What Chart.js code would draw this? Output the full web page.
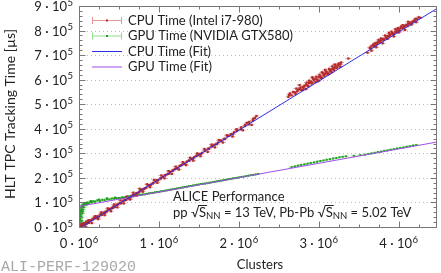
<!DOCTYPE html>
<html>
<head>
<meta charset="utf-8">
<script src="https://cdn.jsdelivr.net/npm/chart.js@4"></script>
<style>
  html, body { margin: 0; padding: 0; background: #fff; }
  #wrap { width: 441px; height: 273px; }
</style>
</head>
<body>
<div id="wrap"><canvas id="chart" width="441" height="273"></canvas></div>
<script>
// x in 10^6 clusters, y in 10^5 µs
const cpuX = [0.01,0.02,0.03,0.04,0.05,0.06,0.07,0.09,0.10,0.12,0.13,0.15,0.17,0.19,0.21,0.23,0.25,0.27,0.29,0.31,0.33,0.35,0.37,0.39,0.41,0.43,0.45,0.47,0.49,0.51,0.53,0.55,0.57,0.59,0.61,0.63,0.65,0.67,0.69,0.71,0.73,0.75,0.77,0.79,0.81,0.84,0.87,0.90,0.93,0.96,0.99,1.02,1.05,1.08,1.11,1.14,1.17,1.20,1.23,1.26,1.29,1.32,1.35,1.38,1.41,1.44,1.47,1.50,1.54,1.58,1.62,1.66,1.70,1.74,1.78,1.82,1.86,1.90,1.94,1.98,2.03,2.08,2.13,2.18,2.22,
  0.08,0.11,0.16,0.20,0.24,0.28,0.32,0.36,0.40,0.44,0.48,0.52,0.56,0.60,0.64,0.68,0.72,0.76,0.80,0.85,0.89,0.94,0.98,1.03,1.07,1.12,1.16,1.21,1.25,1.30,1.34,1.39,1.43,1.48,1.52,1.57,1.61,1.66,1.70,1.75,1.80,1.85,1.92,1.97,2.05,2.10,2.16,2.20,
  0.025,0.075,0.125,0.175,0.225,0.275,0.325,0.375,0.425,0.475,0.525,0.575,0.625,0.675,0.725,0.775,0.825,0.875,0.925,0.975,1.025,1.075,1.125,1.175,1.225,1.275,1.325,1.375,1.425,1.475,1.525,1.575,1.625,1.675,1.725,1.775,1.825,1.875,1.925,1.975,2.025,2.075,2.125,2.175,
  2.62,2.66,2.70,2.73,2.76,2.78,2.80,2.82,2.84,2.86,2.88,2.90,2.92,2.94,2.96,2.98,3.00,3.02,3.04,3.06,3.08,3.10,3.12,3.14,3.16,3.18,3.20,3.22,3.24,3.26,3.28,
  2.64,2.72,2.80,2.88,2.96,3.04,3.12,3.20,3.27,2.76,2.92,3.08,3.16,2.84,3.00,
  2.63,2.68,2.71,2.74,2.77,2.81,2.85,2.87,2.91,2.93,2.97,2.99,3.01,3.03,3.05,3.07,3.09,3.11,3.13,3.15,3.17,3.19,3.21,3.23,3.25,3.27,
  3.37,3.61,
  3.64,3.66,3.68,3.70,3.72,3.74,3.76,3.78,3.80,3.82,3.84,3.86,3.88,3.90,3.92,3.94,3.96,3.98,4.00,4.02,4.04,4.06,4.08,4.10,4.12,4.14,4.17,4.20,4.23,4.27,
  3.66,3.72,3.80,3.86,3.94,4.00,4.08,4.16,4.22,3.70,3.78,3.88,3.96,4.05,4.12,4.25,
  3.65,3.69,3.73,3.77,3.81,3.85,3.89,3.93,3.97,4.01,4.03,4.07,4.11,4.15,4.19,4.21,3.75,3.83,3.91,3.99];
const cpuY = [0.04,0.10,0.03,0.12,0.07,0.16,0.10,0.20,0.14,0.22,0.28,0.26,0.32,0.38,0.36,0.44,0.42,0.52,0.50,0.58,0.62,0.64,0.72,0.74,0.76,0.84,0.82,0.90,0.92,0.98,0.97,1.06,1.08,1.10,1.18,1.16,1.24,1.26,1.30,1.36,1.38,1.42,1.46,1.52,1.54,1.60,1.68,1.72,1.80,1.86,1.90,1.98,2.04,2.10,2.16,2.24,2.28,2.36,2.40,2.48,2.54,2.58,2.66,2.70,2.78,2.84,2.90,2.96,3.02,3.12,3.20,3.28,3.36,3.44,3.52,3.60,3.70,3.78,3.86,3.96,4.06,4.16,4.28,4.40,4.52,
  0.02,0.26,0.16,0.44,0.32,0.60,0.48,0.76,0.64,0.92,0.80,1.08,0.96,1.24,1.12,1.40,1.28,1.56,1.44,1.74,1.62,1.92,1.80,2.10,1.98,2.28,2.16,2.46,2.34,2.64,2.52,2.82,2.70,3.00,2.88,3.18,3.06,3.36,3.24,3.54,3.44,3.74,3.68,3.98,3.94,4.24,4.16,4.44,
  0.05,0.12,0.17,0.31,0.38,0.51,0.57,0.71,0.78,0.91,0.97,1.11,1.18,1.31,1.37,1.51,1.58,1.71,1.77,1.91,1.98,2.11,2.17,2.31,2.38,2.51,2.57,2.71,2.78,2.91,2.97,3.11,3.18,3.31,3.37,3.51,3.58,3.71,3.77,3.91,3.98,4.11,4.18,4.33,
  5.30,5.36,5.48,5.52,5.62,5.58,5.70,5.74,5.80,5.76,5.86,5.92,5.88,5.98,6.04,6.00,6.10,6.14,6.08,6.20,6.24,6.30,6.26,6.36,6.42,6.46,6.50,6.48,6.58,6.64,6.70,
  5.44,5.64,5.58,5.96,5.90,6.30,6.22,6.62,6.52,5.78,6.10,6.40,6.30,5.62,5.96,
  5.38,5.50,5.42,5.58,5.68,5.66,5.88,5.72,5.84,6.04,6.12,5.94,6.20,6.06,6.28,6.16,6.34,6.22,6.44,6.34,6.54,6.40,6.58,6.50,6.66,6.62,
  6.86,7.10,
  7.30,7.36,7.42,7.40,7.48,7.54,7.52,7.60,7.66,7.64,7.72,7.78,7.76,7.84,7.90,7.88,7.96,8.00,8.02,8.08,8.12,8.10,8.20,8.24,8.26,8.32,8.36,8.42,8.46,8.52,
  7.18,7.32,7.48,7.66,7.76,7.92,8.02,8.24,8.34,7.48,7.68,7.90,8.06,8.22,8.36,8.54,
  7.26,7.36,7.46,7.56,7.62,7.70,7.82,7.84,7.94,7.98,8.16,8.16,8.18,8.28,8.38,8.48,7.62,7.80,7.96,8.10];

const gpuX = [0.010,0.012,0.014,0.016,0.018,0.020,0.022,0.025,0.028,0.032,0.036,0.040,0.010,0.015,0.020,0.045,0.050,0.060,0.070,0.080,0.090,0.10,0.12,0.14,0.16,0.18,0.20,0.23,0.26,0.29,0.32,0.35,0.38,0.41,0.44,0.47,0.50,0.54,0.58,0.62,0.66,0.70,0.75,0.80,0.85,0.90,0.95,1.00,1.05,1.10,1.15,1.20,1.25,1.30,1.35,1.40,1.45,1.50,1.55,1.60,1.65,1.70,1.75,1.80,1.85,1.90,1.95,2.00,2.06,2.12,2.18,2.24,
  0.030,0.040,0.050,0.060,0.035,0.045,0.070,0.10,0.15,0.25,0.35,0.45,
  0.52,0.56,0.60,0.64,0.68,0.725,0.775,0.825,0.875,0.925,0.975,1.025,1.075,1.125,1.175,1.225,1.275,1.325,1.375,1.425,1.475,1.525,1.575,1.625,1.675,1.725,1.775,1.825,1.875,1.925,1.975,2.03,2.09,2.15,2.21,
  2.66,2.70,2.74,2.78,2.82,2.86,2.90,2.94,2.98,3.02,3.06,3.10,3.14,3.18,3.22,3.26,3.30,3.34,
  3.44,3.52,3.58,3.62,3.66,3.70,3.74,3.78,3.82,3.86,3.90,3.94,3.98,4.02,4.06,4.10,4.14,4.18,4.22];
const gpuY = [0.10,0.18,0.26,0.34,0.42,0.50,0.58,0.66,0.72,0.78,0.82,0.86,0.30,0.48,0.64,0.90,0.85,0.94,0.90,0.97,0.94,1.00,0.97,1.02,1.00,1.05,1.03,1.08,1.06,1.11,1.09,1.13,1.12,1.16,1.15,1.18,1.18,1.21,1.22,1.25,1.26,1.28,1.30,1.33,1.35,1.38,1.41,1.43,1.46,1.49,1.52,1.55,1.58,1.61,1.64,1.67,1.70,1.73,1.76,1.78,1.81,1.84,1.87,1.90,1.93,1.96,1.99,2.02,2.05,2.09,2.12,2.16,
  0.40,0.55,0.70,0.80,0.25,0.62,0.98,0.92,1.06,1.12,1.17,1.20,
  1.17,1.19,1.21,1.23,1.25,1.28,1.31,1.33,1.37,1.39,1.42,1.45,1.48,1.51,1.54,1.57,1.60,1.63,1.66,1.69,1.72,1.75,1.77,1.80,1.83,1.86,1.89,1.92,1.95,1.98,2.00,2.04,2.07,2.11,2.14,
  2.44,2.47,2.50,2.53,2.55,2.58,2.61,2.63,2.66,2.69,2.71,2.74,2.76,2.79,2.81,2.84,2.86,2.88,
  2.90,2.93,2.95,2.97,3.00,3.02,3.05,3.07,3.10,3.12,3.15,3.17,3.20,3.22,3.24,3.27,3.29,3.32,3.34];

const xErr = 0.035;

const cpuFitX = [0.03, 4.48];
const cpuFitY = [0, 8.90];
const gpuFitX = [0, 4.48];
const gpuFitY = [0.84, 3.46];

const xTicks = [0, 1, 2, 3, 4];
const xTickLabels = ['0 · 10', '1 · 10', '2 · 10', '3 · 10', '4 · 10'];
const xPower = '6';
const yTicks = [0, 1, 2, 3, 4, 5, 6, 7, 8, 9];
const yTickLabels = ['0 · 10', '1 · 10', '2 · 10', '3 · 10', '4 · 10', '5 · 10', '6 · 10', '7 · 10', '8 · 10', '9 · 10'];
const yPower = '5';

const FONT = 'Lato, "Open Sans", sans-serif';
const toPoints = (xs, ys) => xs.map((x, i) => ({ x, y: ys[i] }));

const errorBars = {
  id: 'errorBars',
  beforeDatasetsDraw(chart) {
    const { ctx, chartArea, scales: { x, y } } = chart;
    ctx.save();
    ctx.beginPath();
    ctx.rect(chartArea.left, chartArea.top, chartArea.width, chartArea.height);
    ctx.clip();
    // dotted horizontal grid
    ctx.strokeStyle = '#bbb';
    ctx.lineWidth = 1;
    ctx.setLineDash([1, 3]);
    yTicks.forEach(v => {
      const py = Math.round(y.getPixelForValue(v)) + 0.5;
      ctx.beginPath();
      ctx.moveTo(chartArea.left, py);
      ctx.lineTo(chartArea.right, py);
      ctx.stroke();
    });
    ctx.setLineDash([]);
    chart.data.datasets.forEach(ds => {
      if (!ds.errColor) return;
      ctx.strokeStyle = ds.errColor;
      ctx.lineWidth = 1;
      ds.data.forEach(p => {
        const py = y.getPixelForValue(p.y);
        ctx.beginPath();
        ctx.moveTo(x.getPixelForValue(p.x - xErr), py);
        ctx.lineTo(x.getPixelForValue(p.x + xErr), py);
        ctx.stroke();
      });
    });
    ctx.restore();
  }
};

const frame = {
  id: 'frame',
  afterDraw(chart) {
    const { ctx, chartArea: a, scales: { x, y } } = chart;
    ctx.save();
    ctx.strokeStyle = '#777';
    ctx.lineWidth = 1;
    const L = Math.round(a.left) + 0.5, R = Math.round(a.right) - 0.5;
    const T = Math.round(a.top) + 0.5, B = Math.round(a.bottom) + 0.5;
    ctx.strokeRect(L, T, R - L, B - T);
    ctx.beginPath();
    for (let v = 0; v <= 4.48; v += 0.25) {
      const px = Math.round(x.getPixelForValue(v)) + 0.5;
      const len = Math.abs(v - Math.round(v)) < 1e-6 ? 6 : 3;
      ctx.moveTo(px, B); ctx.lineTo(px, B - len);
      ctx.moveTo(px, T); ctx.lineTo(px, T + len);
    }
    for (let v = 0; v <= 9.0001; v += 0.2) {
      const py = Math.round(y.getPixelForValue(v)) + 0.5;
      const len = Math.abs(v - Math.round(v)) < 1e-6 ? 6 : 3;
      ctx.moveTo(L, py); ctx.lineTo(L + len, py);
      ctx.moveTo(R, py); ctx.lineTo(R - len, py);
    }
    ctx.stroke();

    // tick labels with raised exponent
    ctx.fillStyle = '#222';
    ctx.textBaseline = 'alphabetic';
    ctx.textAlign = 'left';
    const pow = (base, exp, px, py, align) => {
      ctx.font = '13px ' + FONT;
      const wb = ctx.measureText(base).width;
      ctx.font = '9.5px ' + FONT;
      const we = ctx.measureText(exp).width;
      const x0 = align === 'right' ? px - wb - we - 0.5 : px - (wb + we + 0.5) / 2;
      ctx.font = '13px ' + FONT;
      ctx.fillText(base, x0, py);
      ctx.font = '9.5px ' + FONT;
      ctx.fillText(exp, x0 + wb + 0.5, py - 5.5);
    };
    yTicks.forEach((v, i) => pow(yTickLabels[i], yPower, 73, y.getPixelForValue(v) + 5, 'right'));
    xTicks.forEach((v, i) => pow(xTickLabels[i], xPower, x.getPixelForValue(v), 248, 'center'));

    // legend
    const rows = [0, 1, 2, 3];
    ctx.font = '13px ' + FONT;
    ctx.textBaseline = 'middle';
    ctx.textAlign = 'left';
    rows.forEach(r => {
      const ds = chart.data.datasets.find(d => d.legendRow === r);
      const cy = 20.5 + r * 15.5;
      const x0 = 92, x1 = 122;
      if (ds.errColor) {
        ctx.strokeStyle = ds.errColor;
        ctx.beginPath();
        ctx.moveTo(x0, cy); ctx.lineTo(x1, cy);
        ctx.moveTo(x0 + 0.5, cy - 3.5); ctx.lineTo(x0 + 0.5, cy + 3.5);
        ctx.moveTo(x1 - 0.5, cy - 3.5); ctx.lineTo(x1 - 0.5, cy + 3.5);
        ctx.stroke();
        ctx.fillStyle = ds.backgroundColor;
        ctx.fillRect(106, cy - 1, 2, 2);
      } else {
        ctx.strokeStyle = ds.borderColor;
        ctx.beginPath();
        ctx.moveTo(x0, cy); ctx.lineTo(x1, cy);
        ctx.stroke();
      }
      ctx.fillStyle = '#222';
      ctx.fillText(ds.label, 128, cy);
    });

    // ALICE label
    ctx.fillStyle = '#222';
    ctx.fillText('ALICE Performance', 173, 197);
    let cx = 173;
    const cy2 = 213;
    const seg = (t, size, dy) => {
      ctx.font = size + 'px ' + FONT;
      ctx.fillText(t, cx, cy2 + dy);
      const w = ctx.measureText(t).width;
      cx += w;
      return w;
    };
    const sqrtS = () => {
      seg('√', 13, 0);
      const sx = cx;
      const w = seg('S', 13, 0);
      ctx.beginPath();
      ctx.strokeStyle = '#222';
      ctx.moveTo(sx - 1, cy2 - 7.5); ctx.lineTo(sx + w + 1, cy2 - 7.5);
      ctx.stroke();
      seg('NN', 9.5, 3);
    };
    seg('pp ', 13, 0); sqrtS();
    seg(' = 13 TeV, Pb-Pb ', 13, 0); sqrtS();
    seg(' = 5.02 TeV', 13, 0);

    // axis titles
    ctx.font = '13px ' + FONT;
    ctx.textAlign = 'center';
    ctx.fillText('Clusters', 260, 265);
    ctx.save();
    ctx.translate(10, 114);
    ctx.rotate(-Math.PI / 2);
    ctx.font = '14px ' + FONT;
    ctx.fillText('HLT TPC Tracking Time [µs]', 0, 0);
    ctx.restore();

    ctx.textAlign = 'left';
    ctx.fillStyle = '#a8a8a8';
    ctx.font = '15px "Liberation Mono", monospace';
    ctx.fillText('ALI-PERF-129020', 1, 267);
    ctx.restore();
  }
};

new Chart(document.getElementById('chart'), {
  type: 'scatter',
  data: {
    datasets: [
      {
        label: 'CPU Time (Fit)', type: 'line', legendRow: 2, order: 0,
        data: toPoints(cpuFitX, cpuFitY),
        borderColor: '#2f2fe8', borderWidth: 1, pointRadius: 0, fill: false,
      },
      {
        label: 'GPU Time (Fit)', type: 'line', legendRow: 3, order: 1,
        data: toPoints(gpuFitX, gpuFitY),
        borderColor: '#a24ee8', borderWidth: 1, pointRadius: 0, fill: false,
      },
      {
        label: 'CPU Time (Intel i7-980)', legendRow: 0, order: 2,
        data: toPoints(cpuX, cpuY),
        errColor: '#e89a9a',
        backgroundColor: '#b32a2a', borderColor: '#b32a2a',
        pointStyle: 'rect', pointRadius: 1.6, borderWidth: 0,
      },
      {
        label: 'GPU Time (NVIDIA GTX580)', legendRow: 1, order: 3,
        data: toPoints(gpuX, gpuY),
        errColor: '#8fdc8f',
        backgroundColor: '#1f9e1f', borderColor: '#1f9e1f',
        pointStyle: 'rect', pointRadius: 1.4, borderWidth: 0,
      },
    ],
  },
  options: {
    responsive: false,
    animation: false,
    devicePixelRatio: 1,
    layout: { padding: { top: 6, right: 1, left: 0, bottom: 0 } },
    plugins: { legend: { display: false }, tooltip: { enabled: false } },
    scales: {
      x: {
        type: 'linear', min: 0, max: 4.48,
        grid: { display: false, drawTicks: false },
        border: { display: false },
        ticks: { display: false, stepSize: 1, includeBounds: false },
        afterFit(s) { s.height = 46; s.paddingLeft = 0; s.paddingRight = 0; },
      },
      y: {
        type: 'linear', min: 0, max: 9,
        grid: { display: false, drawTicks: false },
        border: { display: false },
        ticks: { display: false, stepSize: 1 },
        afterFit(s) { s.width = 79; s.paddingTop = 0; s.paddingBottom = 0; },
      },
    },
  },
  plugins: [errorBars, frame],
});
</script>
</body>
</html>
